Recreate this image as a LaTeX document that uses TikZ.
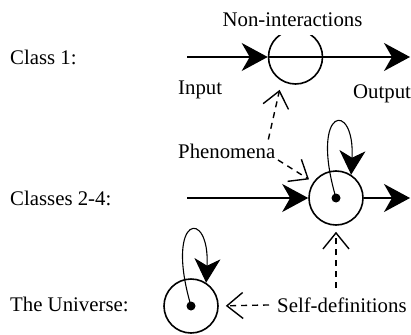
\documentclass[tikz,border=0pt]{standalone}
\usepackage{fontspec}
\setmainfont{Liberation Serif}
\usepackage{tikz}
\usetikzlibrary{
    arrows.meta,
    positioning,
    calc
}

\begin{document}
\begin{tikzpicture}[
    x=1pt, y=-1pt,
    every node/.style={font=\fontsize{20.8pt}{25pt}\selectfont},
    rowLabel/.style={
        anchor=base west, inner sep=0pt
    },
    sysCircle/.style={
        circle, draw=black, line width=1.6pt,
        minimum size=54pt, inner sep=0pt
    },
    coreDot/.style={
        circle, fill=black, minimum size=9pt, inner sep=0pt
    },
    flowArrow/.style={
        -{Stealth[length=26pt, width=28pt, inset=8pt]}, line width=1.6pt
    },
    loopArrow/.style={
        -{Stealth[length=24pt, width=26pt, inset=7pt]}, line width=1.1pt
    },
    hintArrow/.style={
        -{Straight Barb[length=16pt, width=26pt]}, line width=1.4pt,
        dash pattern=on 6pt off 5pt
    }
]
    \useasboundingbox (0,0) rectangle (411,334);

    % Row labels
    \node[rowLabel] (rowOne) at (10,65) {Class 1:};
    \node[rowLabel] (rowTwo) at (10,205) {Classes 2-4:};
    \node[rowLabel] (rowThree) at (10,311) {The Universe:};

    % Systems
    \node[sysCircle] (sys1) at (295.5,57) {};
    \node[sysCircle] (sys2) at (336,198) {};
    \node[coreDot] (core2) at (sys2) {};
    \node[sysCircle] (sys3) at (191,306) {};
    \node[coreDot] (core3) at (sys3) {};

    % Texts
    \node[fill=white, inner xsep=2pt, inner ysep=8pt, anchor=south] (nonInter) at (292.5,35) {Non-interactions};
    \node[rowLabel] (inLabel) at (178,95) {Input};
    \node[rowLabel] (outLabel) at (353,99) {Output};
    \node[rowLabel] (phen) at (178,158) {Phenomena};
    \node[rowLabel] (selfDef) at (277,312) {Self-definitions};

    % Line ends
    \coordinate (inOne) at (187,57);
    \coordinate (outOne) at (410,57);
    \coordinate (inTwo) at (187,198);
    \coordinate (outTwo) at (410,198);

    % Flows
    \draw[flowArrow] (inOne) -- (sys1.west);
    \draw[flowArrow] (sys1.west) -- (outOne);
    \draw[flowArrow] (inTwo) -- (sys2.west);
    \draw[flowArrow] (sys2.east) -- (outTwo);

    % Self loops
    \draw[loopArrow] (core2.center) .. controls +(-27,-92) and +(4,-75) .. (sys2.57);
    \draw[loopArrow] (core3.center) .. controls +(-27,-92) and +(4,-75) .. (sys3.57);

    % Hints
    \draw[hintArrow, shorten <=4pt, shorten >=9pt] ([xshift=-8pt]phen.north east) -- (sys1.240);
    \draw[hintArrow, shorten <=3pt, shorten >=5pt] (phen.south east) -- (sys2.145);
    \draw[hintArrow, shorten <=9pt, shorten >=6pt] (sys2 |- selfDef.north) -- (sys2.south);
    \draw[hintArrow, shorten <=8pt, shorten >=7pt] (selfDef.west) -- (sys3.east);

\end{tikzpicture}
\end{document}
